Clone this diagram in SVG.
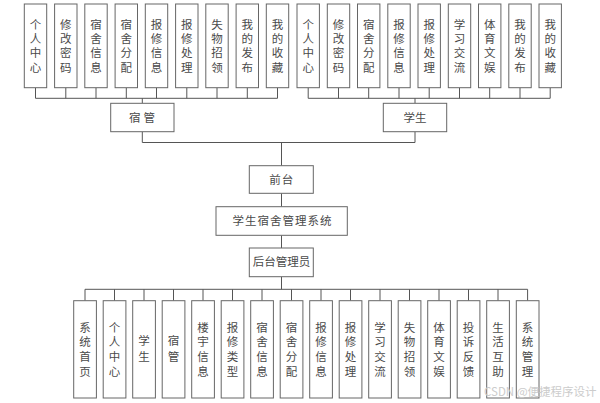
<svg xmlns="http://www.w3.org/2000/svg" width="600" height="403" viewBox="0 0 600 403">
<style>
.box{fill:#fff;stroke:#666;stroke-width:1}
.t{font-family:"Noto Sans CJK SC","Noto Sans",sans-serif;font-size:11.5px;fill:#4a4a4a;text-anchor:middle}
.v{font-family:"Noto Sans CJK SC","Noto Sans",sans-serif;font-size:11.5px;fill:#4a4a4a;text-anchor:middle;writing-mode:vertical-rl;letter-spacing:2.8px}
.vb{letter-spacing:3.2px}
.v2{letter-spacing:3.8px}
.ln{fill:none;stroke:#555;stroke-width:1}
.wm{font-family:"Noto Sans CJK SC","Noto Sans",sans-serif;font-size:11.5px;fill:#ccc}
</style>
<rect width="600" height="403" fill="#fff"/>
<g id="connectors">
<path class="ln" d="M35.5 87.7V98.3M65.8 87.7V98.3M96 87.7V98.3M126.3 87.7V98.3M156.5 87.7V98.3M186.8 87.7V98.3M217 87.7V98.3M247.3 87.7V98.3M277.5 87.7V98.3M35.5 98.3H277.5M142.3 98.3V103.3"/>
<path class="ln" d="M308.2 87.7V98.3M338.5 87.7V98.3M368.7 87.7V98.3M399 87.7V98.3M429.2 87.7V98.3M459.5 87.7V98.3M489.7 87.7V98.3M520 87.7V98.3M550.2 87.7V98.3M308.2 98.3H550.2M415 98.3V103.3"/>
<path class="ln" d="M142.3 131.7V142.5H415V131.7M281.5 142.5V165.7M281.5 193.3V206.7M281.5 235.3V248"/>
<path class="ln" d="M281.5 276.7V289.3" stroke-width="1.8"/>
<path class="ln" d="M85 289.3H527.6M85 289.3V300.7M114.5 289.3V300.7M144 289.3V300.7M173.5 289.3V300.7M203 289.3V300.7M232.5 289.3V300.7M262 289.3V300.7M291.5 289.3V300.7M321 289.3V300.7M350.5 289.3V300.7M380 289.3V300.7M409.5 289.3V300.7M439 289.3V300.7M468.5 289.3V300.7M498 289.3V300.7M527.6 289.3V300.7"/>
</g>
<g id="sg1"><rect class="box" x="24.3" y="4" width="22.4" height="83.7"/><text class="v" x="35.5" y="47.2">个人中心</text></g>
<g id="sg2"><rect class="box" x="54.6" y="4" width="22.4" height="83.7"/><text class="v" x="65.8" y="47.2">修改密码</text></g>
<g id="sg3"><rect class="box" x="84.8" y="4" width="22.4" height="83.7"/><text class="v" x="96" y="47.2">宿舍信息</text></g>
<g id="sg4"><rect class="box" x="115.1" y="4" width="22.4" height="83.7"/><text class="v" x="126.3" y="47.2">宿舍分配</text></g>
<g id="sg5"><rect class="box" x="145.3" y="4" width="22.4" height="83.7"/><text class="v" x="156.5" y="47.2">报修信息</text></g>
<g id="sg6"><rect class="box" x="175.6" y="4" width="22.4" height="83.7"/><text class="v" x="186.8" y="47.2">报修处理</text></g>
<g id="sg7"><rect class="box" x="205.8" y="4" width="22.4" height="83.7"/><text class="v" x="217" y="47.2">失物招领</text></g>
<g id="sg8"><rect class="box" x="236.1" y="4" width="22.4" height="83.7"/><text class="v" x="247.3" y="47.2">我的发布</text></g>
<g id="sg9"><rect class="box" x="266.3" y="4" width="22.4" height="83.7"/><text class="v" x="277.5" y="47.2">我的收藏</text></g>
<g id="st1"><rect class="box" x="297" y="4" width="22.4" height="83.7"/><text class="v" x="308.2" y="47.2">个人中心</text></g>
<g id="st2"><rect class="box" x="327.3" y="4" width="22.4" height="83.7"/><text class="v" x="338.5" y="47.2">修改密码</text></g>
<g id="st3"><rect class="box" x="357.5" y="4" width="22.4" height="83.7"/><text class="v" x="368.7" y="47.2">宿舍分配</text></g>
<g id="st4"><rect class="box" x="387.8" y="4" width="22.4" height="83.7"/><text class="v" x="399" y="47.2">报修信息</text></g>
<g id="st5"><rect class="box" x="418" y="4" width="22.4" height="83.7"/><text class="v" x="429.2" y="47.2">报修处理</text></g>
<g id="st6"><rect class="box" x="448.3" y="4" width="22.4" height="83.7"/><text class="v" x="459.5" y="47.2">学习交流</text></g>
<g id="st7"><rect class="box" x="478.5" y="4" width="22.4" height="83.7"/><text class="v" x="489.7" y="47.2">体育文娱</text></g>
<g id="st8"><rect class="box" x="508.8" y="4" width="22.4" height="83.7"/><text class="v" x="520" y="47.2">我的发布</text></g>
<g id="st9"><rect class="box" x="539" y="4" width="22.4" height="83.7"/><text class="v" x="550.2" y="47.2">我的收藏</text></g>
<g id="suguan"><rect class="box" x="110.7" y="103.3" width="63.3" height="28.4"/><text class="t" x="143.5" y="121.7" letter-spacing="3">宿管</text></g>
<g id="xuesheng"><rect class="box" x="383.3" y="103.3" width="63.4" height="28.4"/><text class="t" x="415" y="121.7">学生</text></g>
<g id="qiantai"><rect class="box" x="249.3" y="165.7" width="64" height="27.6"/><text class="t" x="281.8" y="183.6" letter-spacing="1">前台</text></g>
<g id="system"><rect class="box" x="216" y="206.7" width="131.3" height="28.6"/><text class="t" x="282.4" y="225" letter-spacing="1">学生宿舍管理系统</text></g>
<g id="houtai"><rect class="box" x="249.3" y="248" width="64" height="28.7"/><text class="t" x="281.5" y="266.4">后台管理员</text></g>
<g id="a1"><rect class="box" x="73.7" y="300.7" width="22.7" height="97.3"/><text class="v vb" x="85" y="350.8">系统首页</text></g>
<g id="a2"><rect class="box" x="103.2" y="300.7" width="22.7" height="97.3"/><text class="v vb" x="114.5" y="350.8">个人中心</text></g>
<g id="a3"><rect class="box" x="132.7" y="300.7" width="22.7" height="97.3"/><text class="v v2" x="144" y="350.5">学生</text></g>
<g id="a4"><rect class="box" x="162.2" y="300.7" width="22.7" height="97.3"/><text class="v v2" x="173.5" y="350.5">宿管</text></g>
<g id="a5"><rect class="box" x="191.7" y="300.7" width="22.7" height="97.3"/><text class="v vb" x="203" y="350.8">楼宇信息</text></g>
<g id="a6"><rect class="box" x="221.2" y="300.7" width="22.7" height="97.3"/><text class="v vb" x="232.5" y="350.8">报修类型</text></g>
<g id="a7"><rect class="box" x="250.7" y="300.7" width="22.7" height="97.3"/><text class="v vb" x="262" y="350.8">宿舍信息</text></g>
<g id="a8"><rect class="box" x="280.2" y="300.7" width="22.7" height="97.3"/><text class="v vb" x="291.5" y="350.8">宿舍分配</text></g>
<g id="a9"><rect class="box" x="309.7" y="300.7" width="22.7" height="97.3"/><text class="v vb" x="321" y="350.8">报修信息</text></g>
<g id="a10"><rect class="box" x="339.2" y="300.7" width="22.7" height="97.3"/><text class="v vb" x="350.5" y="350.8">报修处理</text></g>
<g id="a11"><rect class="box" x="368.7" y="300.7" width="22.7" height="97.3"/><text class="v vb" x="380" y="350.8">学习交流</text></g>
<g id="a12"><rect class="box" x="398.2" y="300.7" width="22.7" height="97.3"/><text class="v vb" x="409.5" y="350.8">失物招领</text></g>
<g id="a13"><rect class="box" x="427.7" y="300.7" width="22.7" height="97.3"/><text class="v vb" x="439" y="350.8">体育文娱</text></g>
<g id="a14"><rect class="box" x="457.2" y="300.7" width="22.7" height="97.3"/><text class="v vb" x="468.5" y="350.8">投诉反馈</text></g>
<g id="a15"><rect class="box" x="486.7" y="300.7" width="22.7" height="97.3"/><text class="v vb" x="498" y="350.8">生活互助</text></g>
<g id="a16"><rect class="box" x="516.3" y="300.7" width="22.7" height="97.3"/><text class="v vb" x="527.6" y="350.8">系统管理</text></g>
<text class="wm" x="484" y="396">CSDN @便捷程序设计</text>
</svg>
